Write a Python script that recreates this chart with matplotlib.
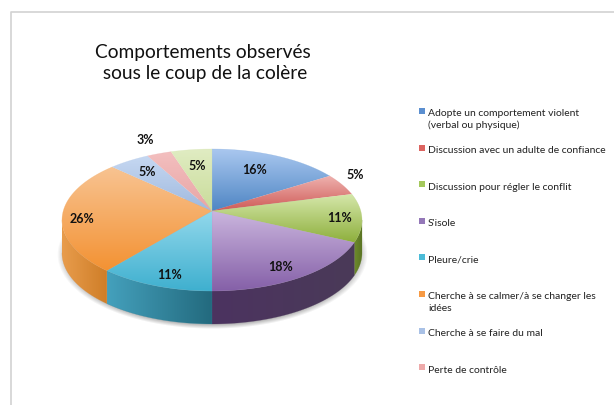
import numpy as np
import matplotlib
matplotlib.use('Agg')
import matplotlib.pyplot as plt
from matplotlib.colors import to_rgb
from matplotlib.patches import PathPatch, Rectangle
from matplotlib.path import Path

plt.rcParams['font.family'] = ['Lato', 'DejaVu Sans']

title = "Comportements observés\n sous le coup de la colère"
values = [16, 5, 11, 18, 11, 26, 5, 3, 5]
percent_labels = ['16%', '5%', '11%', '18%', '11%', '26%', '5%', '3%', '5%']
legend_labels = [
    "Adopte un comportement violent\n(verbal ou physique)",
    "Discussion avec un adulte de confiance",
    "Discussion pour régler le conflit",
    "S'isole",
    "Pleure/crie",
    "Cherche à se calmer/à se changer les\nidées",
    "Cherche à se faire du mal",
    "Perte de contrôle",
]

# top colour, bottom colour of each slice
top_colors = ['#a9c7ef', '#efb3b0', '#d6e8ac', '#cbb6de', '#93d8ec', '#f8c391', '#c6d8f2', '#f3bfbf', '#e0ecc2']
low_colors = ['#4f86c4', '#cf5b57', '#8fb03e', '#8560a8', '#3fb0cf', '#f39233', '#a0b9de', '#e8a5a5', '#c9dc9a']
# left colour, right colour of the side wall
wall_left = ['#3d6a9c', '#a04440', '#6f8c2c', '#4c3360', '#44a0bc', '#e89c4c', '#7d93b5', '#b98080', '#9fb078']
wall_right = ['#3d6a9c', '#a04440', '#5a7424', '#4a3a58', '#236a7e', '#cf7e28', '#7d93b5', '#b98080', '#9fb078']
legend_colors = ['#5b8fd0', '#dc6460', '#a4c85c', '#9478b8', '#4cbcd8', '#f79a44', '#a9c1e6', '#eeaaaa']
label_xy = [(255, 170), (355, 175), (340, 218), (281, 267), (170, 275), (82, 219), (147, 172), (145, 140), (197, 166)]

# pie tilt
cx, cy, rx, ry = 212, 221, 150, 71
k = 0.127
depth = 33


def project(theta, r=1.0):
    # unit disc to the tilted ellipse, centre of the pie ends up above the middle
    x = r * np.cos(np.radians(theta))
    y = r * np.sin(np.radians(theta))
    v = (y + k) / (1 + k * y)
    u = x * np.sqrt(1 - k * k) / (1 + k * y)
    return cx + rx * u, cy - ry * v


def gradient(ax, verts, c1, c2, vertical, z):
    path = Path(np.vstack([verts, verts[:1]]), closed=False)
    patch = PathPatch(path, fc='none', ec='none', transform=ax.transData)
    ax.add_patch(patch)
    x0, y0 = verts.min(axis=0)
    x1, y1 = verts.max(axis=0)
    t = np.linspace(0, 1, 64)
    c1, c2 = np.array(to_rgb(c1)), np.array(to_rgb(c2))
    img = np.outer(1 - t, c1) + np.outer(t, c2)
    img = img[:, None, :] if vertical else img[None, :, :]
    im = ax.imshow(img, extent=(x0, x1, y1, y0), aspect='auto', zorder=z, interpolation='bilinear')
    im.set_clip_path(patch)
    # same colour outline, hides the seams between slices
    ax.plot(verts[:, 0], verts[:, 1], lw=0.3, color=tuple((c1 + c2) / 2), zorder=z, alpha=0.5)


fig = plt.figure(figsize=(6.14, 4.06), dpi=100)
ax = fig.add_axes([0, 0, 1, 1])

wedges, _ = ax.pie(values, startangle=90, counterclock=False)

# soft shadow under the pie
gx, gy = np.meshgrid(np.arange(40, 385), np.arange(200, 345))
d = np.sqrt(((gx - cx) / 150) ** 2 + ((gy - (cy + depth + 1)) / 72) ** 2)
shadow = np.zeros(d.shape + (4,))
shadow[..., :3] = 0.4
shadow[..., 3] = 0.45 * np.clip((1.035 - d) / 0.06, 0, 1)
ax.imshow(shadow, extent=(40, 385, 345, 200), aspect='auto', zorder=1)

limit = np.degrees(np.arcsin(-k))
for i, w in enumerate(wedges):
    w.set_visible(False)
    t = np.linspace(w.theta1, w.theta2, 80)
    px, py = project(t)
    top = np.vstack([[project(0, 0)], np.column_stack([px, py])])
    gradient(ax, top, top_colors[i], low_colors[i], True, 4)

    # side wall, only the part on the front of the ellipse
    a1 = (w.theta1 + 360) % 360
    a2 = a1 + (w.theta2 - w.theta1)
    for shift in (0, -360):
        lo = max(a1 + shift, 180 - limit - 360)
        hi = min(a2 + shift, limit)
        if hi > lo:
            t = np.linspace(lo, hi, 60)
            px, py = project(t)
            wall = np.vstack([np.column_stack([px, py]),
                              np.column_stack([px[::-1], py[::-1] + depth])])
            gradient(ax, wall, wall_left[i], wall_right[i], False, 3)

for (x, y), s in zip(label_xy, percent_labels):
    ax.text(x, y, s, fontsize=9, fontweight='bold', color='#111111', ha='center', va='center', zorder=6)

ax.text(203, 63, title, fontsize=13.8, color='#111111', ha='center', va='center', linespacing=1.32, multialignment='center')

for i, s in enumerate(legend_labels):
    y = 112.5 + 36.6 * i
    ax.add_patch(Rectangle((419, y - 3.5), 6, 6, fc=legend_colors[i], ec='none'))
    ax.text(428, y - 3, s, fontsize=7.5, color='#222222', va='top', linespacing=1.3)

# frame of the pasted chart
ax.plot([11, 11, 614], [406, 13, 13], color='#d2d2d2', lw=1.2)

ax.set_aspect('auto')
ax.set_xlim(0, 614)
ax.set_ylim(406, 0)
ax.axis('off')
fig.savefig('out.png', dpi=100, facecolor='white')
